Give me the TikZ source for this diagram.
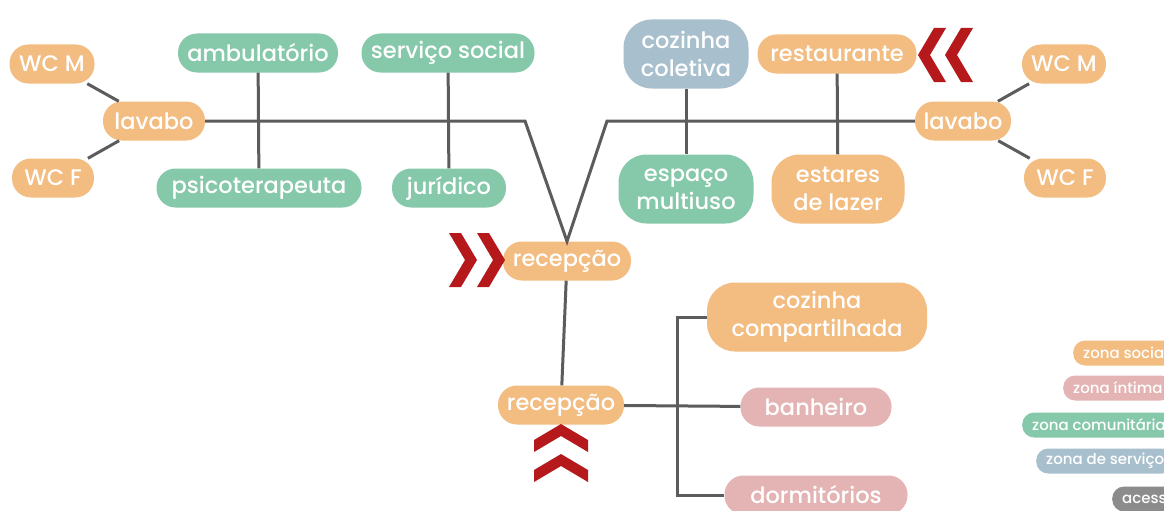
\documentclass[tikz,border=0pt]{standalone}
\usepackage{fontspec}
\setmainfont{Poppins}[UprightFont={* Medium}]
\usepackage{xcolor}
\usepackage{tikz}
\definecolor{social}{HTML}{F3BC80}
\definecolor{comunit}{HTML}{86C8AA}
\definecolor{intima}{HTML}{E4B3B3}
\definecolor{servico}{HTML}{A8BFCD}
\definecolor{acesso}{HTML}{8C8C8C}
\definecolor{vermelho}{HTML}{B5191C}
\definecolor{linha}{HTML}{5C5C5C}
% seta dupla (chevron) apontando para a direita, girada por #2
\newcommand{\seta}[2]{\fill[vermelho,shift={(#1)},rotate=#2] (-15,-27) -- (-3,-27) -- (13,0) -- (-3,27) -- (-15,27) -- (1,0) -- cycle}

\begin{document}
\begin{tikzpicture}[x=1pt,y=-1pt,
    zona/.style={rounded corners=19pt,minimum height=39pt,inner xsep=8pt,
      text=white,font=\fontsize{22.5}{28}\selectfont,align=center},
    dupla/.style={zona,rounded corners=28pt,minimum height=69pt},
    leg/.style={rounded corners=12pt,minimum height=25pt,inner xsep=10pt,
      text=white,font=\fontsize{15}{17}\selectfont,anchor=west},
    liga/.style={linha,line width=3pt}]
    \clip (0,0) rectangle (1164,511);
    \fill[white] (0,0) rectangle (1164,511);

    % ala esquerda
    \node[zona,fill=social,minimum width=85pt] (wcm1) at (52,64) {WC M};
    \node[zona,fill=social,minimum width=82pt] (wcf1) at (53,178) {WC F};
    \node[zona,fill=social,minimum width=102pt] (lav1) at (154,121) {lavabo};
    \node[zona,fill=comunit,minimum width=160pt] (amb) at (258,53) {ambulatório};
    \node[zona,fill=comunit,minimum width=205pt] (psi) at (259,188) {psicoterapeuta};
    \node[zona,fill=comunit,minimum width=173pt] (ss) at (448,53) {serviço social};
    \node[zona,fill=comunit,minimum width=114pt] (jur) at (449,188) {jurídico};

    % ala direita
    \node[dupla,fill=servico,minimum width=125pt] (coz) at (686,54) {cozinha\\coletiva};
    \node[dupla,fill=comunit,minimum width=135pt] (esp) at (686,189) {espaço\\multiuso};
    \node[zona,fill=social,minimum width=159pt] (rest) at (837,54) {restaurante};
    \node[dupla,fill=social,minimum width=133pt] (est) at (838,189) {estares\\de lazer};
    \node[zona,fill=social,minimum width=96pt] (lav2) at (963,121) {lavabo};
    \node[zona,fill=social,minimum width=84pt] (wcm2) at (1064,64) {WC M};
    \node[zona,fill=social,minimum width=82pt] (wcf2) at (1065,178) {WC F};

    % centro
    \node[zona,fill=social,minimum width=128pt] (rec1) at (567,261) {recepção};
    \node[zona,fill=social,minimum width=126pt] (rec2) at (561,405) {recepção};
    \node[dupla,fill=social,minimum width=220pt] (cc) at (817,317) {cozinha\\compartilhada};
    \node[zona,fill=intima,minimum width=151pt] (ban) at (816,407) {banheiro};
    \node[zona,fill=intima,minimum width=183pt] (dorm) at (816,495) {dormitórios};

    \coordinate (v1) at (525,121);
    \coordinate (v2) at (607,121);
    \coordinate (j) at (677,405);

    \draw[liga] (lav1) -- (v1) -- (rec1.north) -- (v2) -- (lav2);
    \draw[liga] (wcm1) -- (lav1);
    \draw[liga] (wcf1) -- (lav1);
    \draw[liga] (wcm2) -- (lav2);
    \draw[liga] (wcf2) -- (lav2);
    \draw[liga] (amb) -- (psi);
    \draw[liga] (ss) -- (jur);
    \draw[liga] (coz) -- (esp);
    \draw[liga] (rest) -- (est);
    \draw[liga] (rec1) -- (rec2);
    \draw[liga] (rec2) -- (ban);
    \draw[liga] (cc.west) -- (cc.west -| j) |- (dorm.west);

    % acessos
    \seta{464,260}{0};
    \seta{492,260}{0};
    \seta{931,55}{180};
    \seta{958,55}{180};
    \seta{561,437}{90};
    \seta{561,467}{90};

    % legenda
    \node[leg,fill=social] (l1) at (1073,353) {zona social};
    \node[leg,fill=intima] (l2) at (1063,388) {zona íntima};
    \node[leg,fill=comunit] (l3) at (1022,425) {zona comunitária};
    \node[leg,fill=servico] (l4) at (1036,461) {zona de serviço};
    \node[leg,fill=acesso] (l5) at (1112,499) {acesso};
\end{tikzpicture}
\end{document}
